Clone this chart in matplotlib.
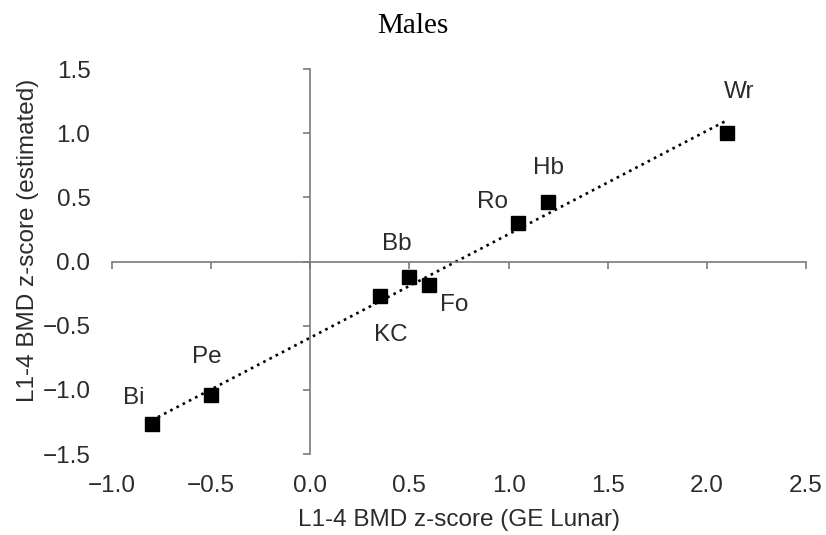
import numpy as np
import matplotlib
matplotlib.use("Agg")
import matplotlib.pyplot as plt

plt.rcParams['font.family'] = ['Liberation Sans', 'DejaVu Sans']

# L1-4 BMD z-scores, males
sites = ["Bi", "Pe", "KC", "Bb", "Fo", "Ro", "Hb", "Wr"]
z_lunar = [-0.8, -0.5, 0.35, 0.5, 0.6, 1.05, 1.2, 2.1]
z_est = [-1.27, -1.04, -0.27, -0.12, -0.18, 0.30, 0.46, 1.00]

x_ticks = [-1.0, -0.5, 0.0, 0.5, 1.0, 1.5, 2.0, 2.5]
y_ticks = [-1.5, -1.0, -0.5, 0.0, 0.5, 1.0, 1.5]

# label offsets in points (dx, dy)
label_offsets = {
    "Bi": (-13, 19), "Pe": (-3, 27), "KC": (8, -28), "Bb": (-9, 24),
    "Fo": (18, -15), "Ro": (-19, 15), "Hb": (0, 25), "Wr": (9, 30),
}

axis_col = "#7a7a7a"
text_col = "#2b2b2b"
fs = 17.5

fig = plt.figure(figsize=(8.26, 5.35), dpi=100)
ax = fig.add_axes([0.1356, 0.1514, 0.8402, 0.7196])

ax.set_xlim(-1.0, 2.5)
ax.set_ylim(-1.5, 1.5)

# axes crossing at the origin, labels kept at the outer edges
for s in ("top", "right"):
    ax.spines[s].set_visible(False)
ax.spines["left"].set_position(("data", 0))
ax.spines["bottom"].set_position(("data", 0))
for s in ("left", "bottom"):
    ax.spines[s].set_color(axis_col)
    ax.spines[s].set_linewidth(1.2)
ax.set_xticks(x_ticks)
ax.set_yticks(y_ticks)
ax.tick_params(labelleft=False, labelbottom=False, direction="out",
               length=5, width=1.2, color=axis_col)

secx = ax.secondary_xaxis("bottom")
secy = ax.secondary_yaxis("left")
secx.spines["bottom"].set_visible(False)
secy.spines["left"].set_visible(False)
secx.tick_params(length=0, labelsize=fs, labelcolor=text_col, pad=15)
secy.tick_params(length=0, labelsize=fs, labelcolor=text_col, pad=15.5)
secx.set_xticks(x_ticks)
secx.set_xticklabels([f"{v:.1f}".replace("-", "\u2212") for v in x_ticks])
secy.set_yticks(y_ticks)
secy.set_yticklabels([f"{v:.1f}".replace("-", "\u2212") for v in y_ticks])
secx.set_xlabel("L1-4 BMD z-score (GE Lunar)", fontsize=fs, color=text_col, labelpad=9)
secy.set_ylabel("L1-4 BMD z-score (estimated)", fontsize=fs, color=text_col)
secy.yaxis.set_label_coords(0.034, 0.551, transform=fig.transFigure)
secy.yaxis.label.set_va("center")

# linear trend line
x = np.array(z_lunar)
y = np.array(z_est)
k, b = np.polyfit(x, y, 1)
xs = np.array([x.min(), x.max()])
ax.plot(xs, k * xs + b, linestyle=":", color="black", linewidth=1.9, zorder=2)

ax.plot(x, y, linestyle="none", marker="s", markersize=10, color="black", zorder=3)

for name, xi, yi in zip(sites, z_lunar, z_est):
    dx, dy = label_offsets[name]
    ax.annotate(name, (xi, yi), xytext=(dx, dy), textcoords="offset points",
                ha="center", va="center", fontsize=fs, color=text_col)

fig.text(0.5, 0.952, "Males", ha="center", va="center", fontsize=21,
         family=["Liberation Serif", "DejaVu Serif"], color="black")

fig.savefig("out.png", dpi=100)
